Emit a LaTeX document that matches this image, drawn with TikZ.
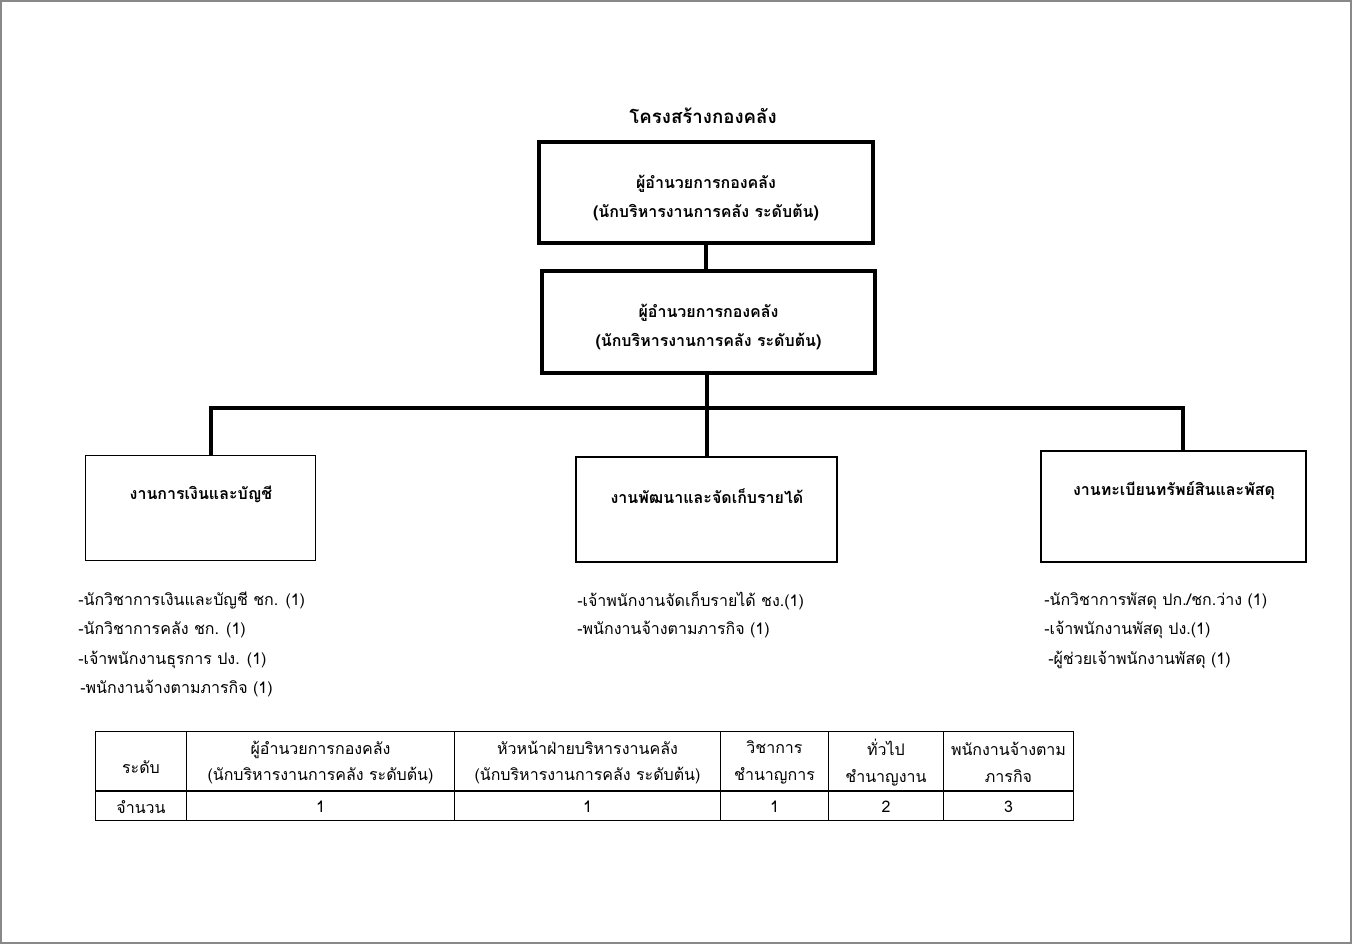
\documentclass[tikz,border=0pt]{standalone}
\usepackage{fontspec}
\setmainfont[Script=Thai]{Loma}
\definecolor{framegray}{RGB}{136,136,136}
\begin{document}
\begin{tikzpicture}[x=0.75pt,y=-0.75pt,
    head/.style={draw,line width=3pt,inner sep=0pt},
    headtext/.style={align=center,inner sep=0pt,font=\bfseries\large},
    sect/.style={draw,line width=0.8pt,inner sep=0pt},
    secttext/.style={inner sep=0pt,font=\bfseries\large},
    link/.style={line width=3pt},
    staff/.style={anchor=west,inner sep=0pt,font=\large},
    cell/.style={align=center,inner sep=0pt,font=\large},
    grid/.style={line width=0.8pt}
]
\useasboundingbox (0,0) rectangle (1352,944);
\draw[framegray,line width=1.5pt] (1,1) rectangle (1351,943);

% title and top boxes
\node[secttext,font=\bfseries\fontsize{14}{17}\selectfont] (title) at (703,116) {โครงสร้างกองคลัง};
\node[head,minimum width=250.5pt,minimum height=75.75pt] (dir1) at (706,192.5) {};
\node[head,minimum width=249.75pt,minimum height=76.5pt] (dir2) at (708.5,322) {};
\node[headtext] (dir1t) at (706,198) {ผู้อำนวยการกองคลัง\\[8pt](นักบริหารงานการคลัง ระดับต้น)};
\node[headtext] (dir2t) at (708.5,327) {ผู้อำนวยการกองคลัง\\[8pt](นักบริหารงานการคลัง ระดับต้น)};

% sections
\node[sect,minimum width=172.5pt,minimum height=78.75pt] (secA) at (200.5,508) {};
\node[sect,minimum width=195.75pt,minimum height=78.75pt] (secB) at (706.5,509.5) {};
\node[sect,minimum width=198.75pt,minimum height=83.25pt] (secC) at (1173.5,506.5) {};
\node[secttext] (secAt) at (201,494) {งานการเงินและบัญชี};
\node[secttext] (secBt) at (707,496) {งานพัฒนาและจัดเก็บรายได้};
\node[secttext] (secCt) at (1174,491) {งานทะเบียนทรัพย์สินและพัสดุ};

% connectors
\coordinate (hub)  at (707,408);
\coordinate (hubA) at (211,408);
\coordinate (hubC) at (1183,408);
\draw[link] (dir1.south) -- (dir1.south |- dir2.north);
\draw[link] (hub |- dir2.south) -- (hub);
\draw[link] (hubA |- secA.north) -- (hubA) -- (hubC) -- (hubC |- secC.north);
\draw[link] (hub) -- (hub |- secB.north);

% staff lists
\node[staff] (listA1) at (78,601) {-นักวิชาการเงินและบัญชี ชก. (1)};
\node[staff] (listA2) at (78,630) {-นักวิชาการคลัง ชก. (1)};
\node[staff] (listA3) at (78,660) {-เจ้าพนักงานธุรการ ปง. (1)};
\node[staff] (listA4) at (80,689) {-พนักงานจ้างตามภารกิจ (1)};
\node[staff] (listB1) at (577,601) {-เจ้าพนักงานจัดเก็บรายได้ ชง.(1)};
\node[staff] (listB2) at (577,630) {-พนักงานจ้างตามภารกิจ (1)};
\node[staff] (listC1) at (1044,601) {-นักวิชาการพัสดุ ปก./ชก.ว่าง (1)};
\node[staff] (listC2) at (1044,630) {-เจ้าพนักงานพัสดุ ปง.(1)};
\node[staff] (listC3) at (1048,660) {-ผู้ช่วยเจ้าพนักงานพัสดุ (1)};

% table
\draw[grid] (95.5,731.5) rectangle (1073.5,820.5);
\draw[grid] (95.5,791) -- (1073.5,791);
\foreach \cx in {186.5,454.5,720.5,828.5,943.5}
    \draw[grid] (\cx,731.5) -- (\cx,820.5);
\node[cell] (lvl)  at (141,767) {ระดับ};
\node[cell] (colA) at (320.5,762.5) {ผู้อำนวยการกองคลัง\\[6pt](นักบริหารงานการคลัง ระดับต้น)};
\node[cell] (colB) at (587.5,762.5) {หัวหน้าฝ่ายบริหารงานคลัง\\[6pt](นักบริหารงานการคลัง ระดับต้น)};
\node[cell] (colC) at (774.5,762.5) {วิชาการ\\[6pt]ชำนาญการ};
\node[cell] (colD) at (886,762.5) {ทั่วไป\\[6pt]ชำนาญงาน};
\node[cell] (colE) at (1008.5,762.5) {พนักงานจ้างตาม\\[6pt]ภารกิจ};
\node[cell] (cnt)  at (141,807) {จำนวน};
\node[cell] (numA) at (320.5,807) {1};
\node[cell] (numB) at (587.5,807) {1};
\node[cell] (numC) at (774.5,807) {1};
\node[cell] (numD) at (886,807) {2};
\node[cell] (numE) at (1008.5,807) {3};
\end{tikzpicture}
\end{document}
